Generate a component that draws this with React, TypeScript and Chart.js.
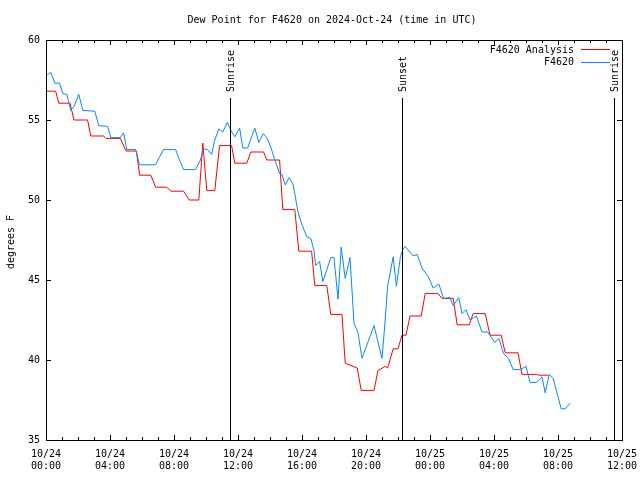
import React, { useEffect, useRef } from "react";
import { Chart, registerables } from "chart.js";

Chart.register(...registerables);

// Hours since 10/24 00:00 UTC
const analysisHours = [0.05, 0.6, 0.8, 1.5, 1.75, 2.6, 2.8, 3.6, 3.75, 4.65, 5.0, 5.65, 5.85, 6.55, 6.85, 7.55, 7.8, 8.6, 8.95, 9.55, 9.8, 10.05, 10.55, 10.85, 11.6, 11.8, 12.55, 12.8, 13.6, 13.8, 14.6, 14.8, 15.55, 15.8, 16.6, 16.8, 17.55, 17.8, 18.5, 18.7, 19.45, 19.7, 20.5, 20.75, 21.2, 21.35, 21.7, 22.0, 22.25, 22.5, 22.75, 23.45, 23.7, 24.5, 24.75, 25.45, 25.7, 26.45, 26.7, 27.45, 27.75, 28.45, 28.7, 29.5, 29.75, 30.65, 30.8, 31.4];
const analysisValues = [56.8, 56.8, 56.05, 56.05, 55.0, 55.0, 54.0, 54.0, 53.85, 53.85, 53.06, 53.06, 51.55, 51.55, 50.8, 50.8, 50.55, 50.55, 50.0, 50.0, 53.55, 50.6, 50.6, 53.4, 53.4, 52.3, 52.3, 53.0, 53.0, 52.5, 52.5, 49.4, 49.4, 46.8, 46.8, 44.65, 44.65, 42.85, 42.85, 39.8, 39.5, 38.1, 38.1, 39.35, 39.6, 39.5, 40.7, 40.7, 41.55, 41.55, 42.75, 42.75, 44.15, 44.15, 43.85, 43.85, 42.2, 42.2, 42.9, 42.9, 41.55, 41.55, 40.45, 40.45, 39.1, 39.1, 39.05, 39.05];

const stationHours = [0.04, 0.3, 0.55, 0.85, 1.05, 1.3, 1.4, 1.55, 1.75, 2.05, 2.3, 3.05, 3.3, 3.85, 4.05, 4.65, 4.85, 5.05, 5.6, 5.85, 6.85, 7.1, 7.35, 8.1, 8.3, 8.6, 9.35, 9.65, 9.85, 10.1, 10.35, 10.55, 10.8, 11.05, 11.33, 11.58, 11.8, 12.1, 12.3, 12.6, 13.05, 13.3, 13.58, 13.83, 14.05, 14.3, 14.6, 14.75, 14.95, 15.2, 15.45, 15.75, 16.0, 16.3, 16.55, 16.75, 16.85, 17.1, 17.3, 17.8, 18.0, 18.25, 18.45, 18.7, 19.0, 19.25, 19.5, 19.75, 20.5, 21.0, 21.2, 21.35, 21.7, 21.9, 22.15, 22.3, 22.45, 22.95, 23.2, 23.5, 23.9, 24.2, 24.55, 24.85, 25.25, 25.45, 25.8, 26.0, 26.25, 26.5, 26.9, 27.25, 27.6, 28.05, 28.3, 28.6, 28.9, 29.2, 29.65, 30.0, 30.25, 30.65, 31.0, 31.2, 31.45, 31.7, 32.2, 32.45, 32.75];
const stationValues = [57.8, 57.98, 57.3, 57.3, 56.65, 56.6, 56.2, 55.6, 55.85, 56.6, 55.6, 55.55, 54.65, 54.6, 53.9, 53.9, 54.2, 53.15, 53.15, 52.2, 52.2, 52.7, 53.15, 53.15, 52.6, 51.9, 51.9, 52.5, 53.2, 53.15, 52.85, 53.75, 54.45, 54.25, 54.85, 54.3, 53.95, 54.5, 53.25, 53.25, 54.5, 53.6, 54.15, 53.85, 53.3, 52.5, 51.65, 51.6, 50.95, 51.4, 50.95, 49.25, 48.45, 47.7, 47.6, 46.85, 45.9, 46.15, 44.9, 46.4, 46.4, 43.8, 47.05, 45.1, 46.4, 42.3, 41.7, 40.1, 42.15, 40.1, 42.5, 44.6, 46.45, 44.6, 46.45, 46.9, 47.1, 46.5, 46.6, 45.75, 45.2, 44.5, 44.75, 43.85, 43.9, 43.4, 43.9, 42.9, 43.15, 42.5, 42.75, 41.75, 41.75, 41.1, 41.35, 40.4, 40.1, 39.4, 39.4, 39.6, 38.6, 38.6, 38.95, 37.95, 39.1, 38.85, 36.95, 36.95, 37.3];

const xTickHours = [0, 4, 8, 12, 16, 20, 24, 28, 32, 36];
const xTickDates = ["10/24", "10/24", "10/24", "10/24", "10/24", "10/24", "10/25", "10/25", "10/25", "10/25"];
const xTickTimes = ["00:00", "04:00", "08:00", "12:00", "16:00", "20:00", "00:00", "04:00", "08:00", "12:00"];
const yTicks = [35, 40, 45, 50, 55, 60];

const sunHours = [11.5, 22.27, 35.5];
const sunLabels = ["Sunrise", "Sunset", "Sunrise"];

const seriesNames = ["F4620 Analysis", "F4620"];
const seriesColors = ["#ff0000", "#0a88ff"];

const titleText = "Dew Point for F4620 on 2024-Oct-24 (time in UTC)";
const yAxisTitle = "degrees F";

const FONT = '10px "DejaVu Sans Mono", monospace';

const overlay = {
  id: "overlay",
  beforeDraw(chart: any) {
    const ctx = chart.ctx;
    ctx.save();
    ctx.fillStyle = "#ffffff";
    ctx.fillRect(0, 0, chart.width, chart.height);
    ctx.restore();
  },
  afterDatasetsDraw(chart: any) {
    const ctx = chart.ctx;
    const a = chart.chartArea;
    const xs = chart.scales.x;
    const ys = chart.scales.y;
    ctx.save();
    ctx.strokeStyle = "#000";
    ctx.fillStyle = "#000";
    ctx.lineWidth = 1;
    ctx.font = FONT;

    // sun lines
    sunHours.forEach((h, i) => {
      const px = Math.round(xs.getPixelForValue(h)) + 0.5;
      ctx.beginPath();
      ctx.moveTo(px, 98);
      ctx.lineTo(px, a.bottom);
      ctx.stroke();
      ctx.save();
      ctx.translate(px + 1, 92);
      ctx.rotate(-Math.PI / 2);
      ctx.textAlign = "left";
      ctx.textBaseline = "middle";
      ctx.fillText(sunLabels[i], 0, 0);
      ctx.restore();
    });

    // border
    ctx.strokeRect(Math.round(a.left) + 0.5, Math.round(a.top) + 0.5, Math.round(a.right - a.left), Math.round(a.bottom - a.top));

    // x ticks (every hour, major every 4)
    for (let h = 0; h <= 36; h++) {
      const px = Math.round(xs.getPixelForValue(h)) + 0.5;
      const len = h % 4 === 0 ? 5 : 3;
      ctx.beginPath();
      ctx.moveTo(px, a.bottom);
      ctx.lineTo(px, a.bottom - len);
      ctx.moveTo(px, a.top);
      ctx.lineTo(px, a.top + len);
      ctx.stroke();
    }
    ctx.textAlign = "center";
    ctx.textBaseline = "middle";
    xTickHours.forEach((h, i) => {
      const px = xs.getPixelForValue(h);
      ctx.fillText(xTickDates[i], px, a.bottom + 14);
      ctx.fillText(xTickTimes[i], px, a.bottom + 26);
    });

    // y ticks
    ctx.textAlign = "right";
    yTicks.forEach((v) => {
      const py = Math.round(ys.getPixelForValue(v)) + 0.5;
      ctx.beginPath();
      ctx.moveTo(a.left, py);
      ctx.lineTo(a.left + 5, py);
      ctx.moveTo(a.right, py);
      ctx.lineTo(a.right - 5, py);
      ctx.stroke();
      ctx.fillText(String(v), a.left - 6, py);
    });

    // title
    ctx.textAlign = "center";
    ctx.fillText(titleText, (a.left + a.right) / 2 - 2, 20);

    // y axis title
    ctx.save();
    ctx.translate(11, 242);
    ctx.rotate(-Math.PI / 2);
    ctx.textAlign = "center";
    ctx.fillText(yAxisTitle, 0, 0);
    ctx.restore();

    // legend
    seriesNames.forEach((name, i) => {
      const yy = 50 + i * 12.5;
      ctx.textAlign = "right";
      ctx.fillStyle = "#000";
      ctx.fillText(name, a.right - 48, yy);
      ctx.strokeStyle = seriesColors[i];
      ctx.beginPath();
      const ly = Math.round(yy) - 0.5;
      ctx.moveTo(a.right - 41, ly);
      ctx.lineTo(a.right - 12, ly);
      ctx.stroke();
    });
    ctx.restore();
  },
};

export default function App() {
  const ref = useRef<HTMLCanvasElement>(null);
  useEffect(() => {
    if (!ref.current) return;
    const chart = new Chart(ref.current, {
      type: "line",
      data: {
        datasets: [
          {
            label: seriesNames[0],
            data: analysisHours.map((h, i) => ({ x: h, y: analysisValues[i] })),
            borderColor: seriesColors[0],
            borderWidth: 1,
            pointRadius: 0,
            tension: 0,
            order: 2,
          },
          {
            label: seriesNames[1],
            data: stationHours.map((h, i) => ({ x: h, y: stationValues[i] })),
            borderColor: seriesColors[1],
            borderWidth: 1,
            pointRadius: 0,
            tension: 0,
            order: 1,
          },
        ],
      },
      options: {
        animation: false,
        responsive: false,
        devicePixelRatio: 1,
        layout: { padding: { left: 46, right: 18, top: 40, bottom: 40 } },
        plugins: { legend: { display: false }, tooltip: { enabled: false }, title: { display: false } },
        scales: {
          x: { type: "linear", min: 0, max: 36, display: false },
          y: { type: "linear", min: 35, max: 60, display: false },
        },
      },
      plugins: [overlay],
    });
    return () => chart.destroy();
  }, []);
  return (
    <div style={{ position: "fixed", left: 0, top: 0, width: 640, height: 480, background: "#fff" }}>
      <canvas ref={ref} width={640} height={480} style={{ display: "block" }} />
    </div>
  );
}
